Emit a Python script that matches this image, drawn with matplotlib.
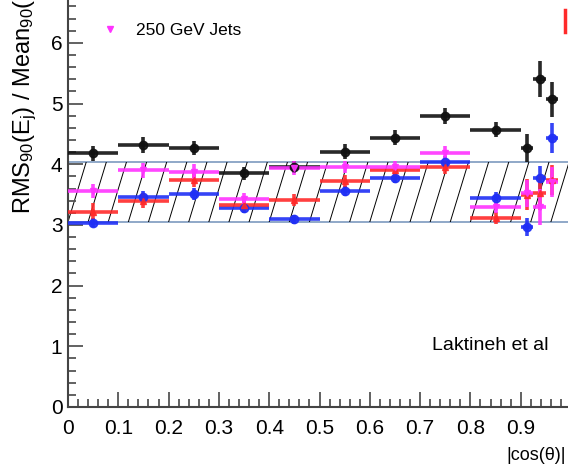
import matplotlib
matplotlib.use("Agg")
import matplotlib.pyplot as plt
from matplotlib.lines import Line2D
from matplotlib.patches import Rectangle
import numpy as np

plt.rcParams['font.family'] = ['Liberation Sans', 'DejaVu Sans']
plt.rcParams['mathtext.fontset'] = 'custom'
plt.rcParams['mathtext.rm'] = 'Liberation Sans'
plt.rcParams['mathtext.it'] = 'Liberation Sans:italic'
plt.rcParams['mathtext.default'] = 'regular'

# |cos(theta)| bins: ten wide bins, the last one split in four
bin_centers = [0.05, 0.15, 0.25, 0.35, 0.45, 0.55, 0.65, 0.75, 0.85, 0.9125, 0.9375, 0.9625]
bin_half = [0.05] * 9 + [0.0125] * 3

black_vals = [4.18, 4.32, 4.27, 3.85, 3.95, 4.21, 4.44, 4.80, 4.57, 4.27, 5.40, 5.07]
black_errs = [0.12, 0.13, 0.12, 0.11, 0.10, 0.12, 0.12, 0.13, 0.12, 0.23, 0.30, 0.29]
blue_vals = [3.04, 3.46, 3.51, 3.28, 3.09, 3.56, 3.77, 4.04, 3.44, 2.97, 3.77, 4.43]
blue_errs = [0.08, 0.10, 0.10, 0.08, 0.08, 0.08, 0.08, 0.10, 0.10, 0.15, 0.20, 0.25]
red_vals = [3.22, 3.40, 3.74, 3.33, 3.41, 3.73, 3.90, 3.96, 3.11, 3.50, 3.52, 3.74]
red_errs = [0.14, 0.12, 0.12, 0.10, 0.10, 0.10, 0.10, 0.12, 0.10, 0.25, 0.28, 0.25]
mag_vals = [3.56, 3.90, 3.88, 3.42, 3.94, 3.96, 3.96, 4.18, 3.29, 3.52, 3.30, 3.71]
mag_errs = [0.12, 0.12, 0.12, 0.10, 0.12, 0.10, 0.10, 0.12, 0.10, 0.22, 0.30, 0.25]

band_lo, band_hi = 3.05, 4.03

fig = plt.figure(figsize=(5.68, 4.75), dpi=100)
ax = fig.add_axes([68 / 568, 68 / 475, 503 / 568, 0.856])
ax.set_xlim(0, 1)
ax.set_ylim(0, 6.7)

# hatched band
ax.axhline(band_lo, color='#8fa8c8', lw=1.4, zorder=1)
ax.axhline(band_hi, color='#8fa8c8', lw=1.4, zorder=1)
clip = Rectangle((0, band_lo), 1, band_hi - band_lo, transform=ax.transData)
for x0 in np.arange(-0.04, 1.0, 0.04):
    ln, = ax.plot([x0, x0 + 0.036], [band_lo, band_hi], color='black', lw=0.7, zorder=1)
    ln.set_clip_path(clip)

series = [
    (black_vals, black_errs, '#111111', 'o', 6),
    (blue_vals, blue_errs, '#1f2ff5', 'o', 6),
    (red_vals, red_errs, '#ff2a2a', '^', 5),
    (mag_vals, mag_errs, '#ff33ff', 'v', 5),
]
for vals, errs, col, mk, ms in series:
    ax.errorbar(bin_centers, vals, yerr=errs, xerr=bin_half, fmt=mk, color=col,
                ms=ms, elinewidth=2.6, capsize=0, alpha=0.9, zorder=3)

ax.spines['top'].set_visible(False)
ax.spines['right'].set_visible(False)
for s in ['left', 'bottom']:
    ax.spines[s].set_linewidth(1.5)
    ax.spines[s].set_color('#444444')

ax.set_xticks(np.arange(0, 1.0, 0.1))
ax.set_xticklabels(['0', '0.1', '0.2', '0.3', '0.4', '0.5', '0.6', '0.7', '0.8', '0.9'])
ax.set_xticks(np.arange(0, 1.0, 0.02), minor=True)
ax.set_yticks(np.arange(0, 7, 1))
ax.set_yticks(np.arange(0, 6.7, 0.2), minor=True)
ax.tick_params(which='major', direction='in', length=11, width=1.3, color='#555555',
               labelsize=15)
ax.tick_params(which='minor', direction='in', length=6, width=1.3, color='#555555')
ax.tick_params(axis='x', pad=9)
ax.tick_params(axis='y', pad=4)

fig.text(25 / 568, 1 - 214 / 475, 'RMS$_{90}$(E$_{j}$) / Mean$_{90}$(E$_{j}$) [%]',
         rotation=90, ha='center', va='bottom', fontsize=17)
fig.text(566 / 568, 20 / 475, '|cos(θ)|', ha='right', va='center', fontsize=13)
fig.text(432 / 568, 1 - 346 / 475, 'Laktineh et al', ha='left', va='center', fontsize=14)

handle = Line2D([], [], marker='v', color='#ff33ff', ls='none', ms=5)
fig.legend([handle], ['250 GeV Jets'], loc='center left',
           bbox_to_anchor=(93 / 568, 1 - 30 / 475), frameon=False, fontsize=12.5,
           handlelength=1.0, handletextpad=1.0, borderpad=0)
fig.add_artist(Line2D([565 / 568, 565 / 568], [1 - 10 / 475, 1 - 32 / 475],
                      color='#ff2a2a', lw=2.5))

fig.savefig('out.png', dpi=100)
